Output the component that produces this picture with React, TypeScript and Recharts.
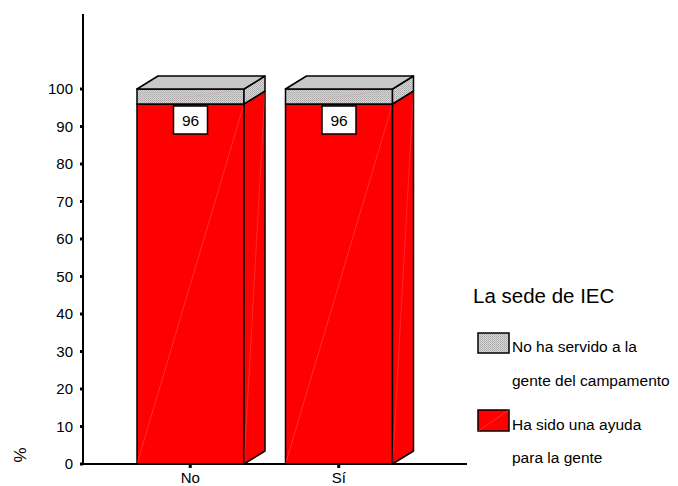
import { BarChart, Bar, XAxis, YAxis, Legend, LabelList } from 'recharts';

const categories = ['No', 'Sí'];
const helped = [96, 96];
const notServed = [4, 4];
const yTicks = [0, 10, 20, 30, 40, 50, 60, 70, 80, 90, 100];

const data = categories.map((name, i) => ({
  name,
  helped: helped[i],
  notServed: notServed[i],
}));

const FONT = '"Liberation Sans", Arial, sans-serif';
const DX = 21;
const DY = -13;

function RedBlock(props: any) {
  const { x, y, width: w, height: h } = props;
  return (
    <g>
      <rect x={x} y={y} width={w} height={h} fill="#ff0000" stroke="#000" strokeWidth={1.5} />
      <line x1={x} y1={y + h} x2={x + w} y2={y} stroke="#ff8080" strokeWidth={0.5} strokeOpacity={0.7} />
      <polygon
        points={`${x + w},${y + h} ${x + w + DX},${y + h + DY} ${x + w + DX},${y + DY} ${x + w},${y}`}
        fill="#ff0000"
        stroke="#000"
        strokeWidth={1.5}
        strokeLinejoin="round"
      />
      <line x1={x + w} y1={y + h} x2={x + w + DX} y2={y + DY} stroke="#ff8080" strokeWidth={0.5} strokeOpacity={0.6} />
    </g>
  );
}

function GrayBlock(props: any) {
  const { x, y, width: w, height: h } = props;
  return (
    <g>
      <rect x={x} y={y} width={w} height={h} fill="url(#grayChecker)" stroke="#000" strokeWidth={1.5} />
      <line x1={x + 8} y1={y + h - 1} x2={x + w - 12} y2={y + 2} stroke="#e88" strokeWidth={0.5} strokeOpacity={0.6} />
      <polygon
        points={`${x + w},${y + h} ${x + w + DX},${y + h + DY} ${x + w + DX},${y + DY} ${x + w},${y}`}
        fill="url(#grayChecker)"
        stroke="#000"
        strokeWidth={1.5}
        strokeLinejoin="round"
      />
      <polygon
        points={`${x},${y} ${x + DX},${y + DY} ${x + w + DX},${y + DY} ${x + w},${y}`}
        fill="#c8c8c8"
        stroke="#000"
        strokeWidth={1.5}
        strokeLinejoin="round"
      />
    </g>
  );
}

function ValueLabel(props: any) {
  const { x, y, width, value } = props;
  const cx = x + width / 2;
  return (
    <g>
      <rect x={cx - 17} y={y + 2} width={34} height={28} fill="#fff" stroke="#000" strokeWidth={1.5} />
      <text x={cx} y={y + 21.5} textAnchor="middle" fontSize={15.5} fontFamily={FONT} fill="#000">
        {value}
      </text>
    </g>
  );
}

function PercentLabel(props: any) {
  const { viewBox } = props;
  const bx = viewBox.x + 20;
  const by = viewBox.y + viewBox.height - 9;
  return (
    <text x={bx} y={by} transform={`rotate(-90 ${bx} ${by})`} textAnchor="middle" dominantBaseline="central" fontSize={17} fontFamily={FONT} fill="#000">
      %
    </text>
  );
}

function LegendBox() {
  return (
    <svg width={208} height={205} style={{ display: 'block' }}>
      <defs>
        <pattern id="grayCheckerLg" width="2" height="2" patternUnits="userSpaceOnUse">
          <rect width="2" height="2" fill="#d6d6d6" />
          <rect width="1" height="1" fill="#a9a9a9" />
          <rect x="1" y="1" width="1" height="1" fill="#b8b8b8" />
        </pattern>
      </defs>
      <text x={3} y={33} fontSize={20.5} fontFamily={FONT} fill="#000">La sede de IEC</text>
      <rect x={8} y={63} width={31} height={20} fill="url(#grayCheckerLg)" stroke="#000" strokeWidth={1.5} />
      <text x={42} y={82} fontSize={15.5} fontFamily={FONT} fill="#000">No ha servido a la</text>
      <text x={42} y={116} fontSize={15.5} fontFamily={FONT} fill="#000">gente del campamento</text>
      <rect x={8} y={140} width={31} height={21} fill="#ff0000" stroke="#000" strokeWidth={1.5} />
      <line x1={8} y1={161} x2={39} y2={140} stroke="#ff8080" strokeWidth={0.5} strokeOpacity={0.7} />
      <text x={42} y={159.5} fontSize={15.5} fontFamily={FONT} fill="#000">Ha sido una ayuda</text>
      <text x={42} y={193} fontSize={15.5} fontFamily={FONT} fill="#000">para la gente</text>
    </svg>
  );
}

export default function App() {
  return (
    <div style={{ position: 'absolute', left: 0, top: 0, width: 678, height: 486, background: '#fff' }}>
      <BarChart
        width={678}
        height={486}
        data={data}
        margin={{ top: 14, right: 211, bottom: 0, left: 0 }}
      >
        <defs>
          <pattern id="grayChecker" width="2" height="2" patternUnits="userSpaceOnUse">
            <rect width="2" height="2" fill="#d6d6d6" />
            <rect width="1" height="1" fill="#a9a9a9" />
            <rect x="1" y="1" width="1" height="1" fill="#b8b8b8" />
          </pattern>
        </defs>
        <XAxis
          dataKey="name"
          height={22}
          padding={{ left: 33, right: 54 }}
          axisLine={{ stroke: '#000', strokeWidth: 2 }}
          tickLine={{ stroke: '#000', strokeWidth: 3 }}
          tickSize={4}
          tickMargin={4}
          tick={{ fill: '#000', fontSize: 15, fontFamily: FONT }}
        />
        <XAxis
          xAxisId="top"
          dataKey="name"
          orientation="top"
          height={0}
          tick={false}
          tickLine={false}
          axisLine={{ stroke: '#000', strokeWidth: 1 }}
        />
        <YAxis
          width={83}
          domain={[0, 120]}
          ticks={yTicks}
          allowDataOverflow
          axisLine={{ stroke: '#000', strokeWidth: 2 }}
          tickLine={{ stroke: '#000', strokeWidth: 3 }}
          tickSize={3}
          tickMargin={7}
          tick={{ fill: '#000', fontSize: 15, fontFamily: FONT }}
          label={<PercentLabel />}
        />
        <YAxis
          yAxisId="right"
          orientation="right"
          width={0}
          tick={false}
          tickLine={false}
          axisLine={{ stroke: '#000', strokeWidth: 1 }}
        />
        <Legend
          layout="vertical"
          align="center"
          verticalAlign="middle"
          content={() => <LegendBox />}
          wrapperStyle={{ position: 'absolute', left: 470, top: 270, width: 208, height: 205 }}
        />
        <Bar dataKey="helped" stackId="a" barSize={107} fill="#ff0000" shape={<RedBlock />} isAnimationActive={false}>
          <LabelList dataKey="helped" content={<ValueLabel />} />
        </Bar>
        <Bar dataKey="notServed" stackId="a" barSize={107} fill="#c8c8c8" shape={<GrayBlock />} isAnimationActive={false} />
      </BarChart>
    </div>
  );
}
